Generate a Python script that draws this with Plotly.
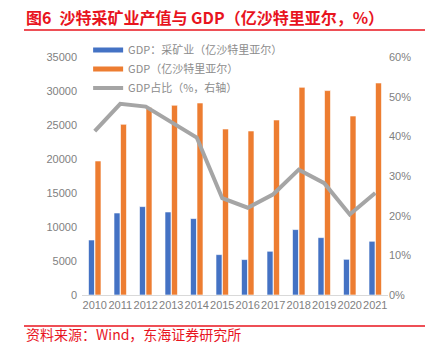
import plotly.graph_objects as go

years = ["2010", "2011", "2012", "2013", "2014", "2015", "2016", "2017", "2018", "2019", "2020", "2021"]
mining_gdp = [8090, 12060, 13000, 12210, 11240, 5940, 5210, 6430, 9620, 8440, 5250, 7900]
total_gdp = [19710, 25100, 27560, 27900, 28240, 24410, 24120, 25740, 30540, 30060, 26320, 31180]
share_pct = [41.3, 48.2, 47.5, 43.7, 39.7, 24.4, 22.0, 25.4, 31.6, 28.2, 20.3, 25.7]

names = ["GDP：采矿业（亿沙特里亚尔）", "GDP（亿沙特里亚尔）", "GDP占比（%，右轴）"]
colors = ["#4472C4", "#ED7D31", "#A5A5A5"]
font_fam = "Noto Sans CJK SC, Roboto, sans-serif"
tick_font = "Liberation Sans, Arial, sans-serif"
tick_col = "#7F7F7F"
red = "#E8141E"

fig = go.Figure()
fig.add_trace(go.Bar(x=years, y=mining_gdp, marker=dict(color=colors[0], line=dict(color="white", width=0.6)),
                     showlegend=False, name=names[0]))
fig.add_trace(go.Bar(x=years, y=total_gdp, marker=dict(color=colors[1], line=dict(color="white", width=0.6)),
                     showlegend=False, name=names[1]))
fig.add_trace(go.Scatter(x=years, y=share_pct, mode="lines", yaxis="y2",
                         line=dict(color=colors[2], width=4), showlegend=False, name=names[2]))
# legend entries (line-style samples)
for i in range(3):
    fig.add_trace(go.Scatter(x=[None], y=[None], mode="lines", name=names[i],
                             line=dict(color=colors[i], width=5 if i < 2 else 4),
                             yaxis="y2" if i == 2 else "y"))

fig.update_layout(
    width=438, height=351,
    margin=dict(l=82, r=50, t=57, b=56),
    paper_bgcolor="white", plot_bgcolor="white",
    font=dict(family=font_fam, size=11, color=tick_col),
    barmode="group", bargap=0.49, bargroupgap=0.08,
    showlegend=True,
    legend=dict(x=0.02, y=1.09, xanchor="left", yanchor="top", bgcolor="rgba(0,0,0,0)",
                font=dict(size=11, color="#8C8C8C"), itemwidth=30, tracegroupgap=0,
                traceorder="normal"),
    xaxis=dict(showgrid=False, showline=True, linecolor="#D9D9D9", linewidth=1, ticks="",
               tickangle=0, tickfont=dict(size=11, color=tick_col, family=tick_font)),
    yaxis=dict(range=[0, 35000], dtick=5000, tickformat="d", showgrid=False, zeroline=False,
               showline=False, ticks="", tickfont=dict(size=11, color=tick_col, family=tick_font),
               ticklabelstandoff=4),
    yaxis2=dict(range=[0, 60], dtick=10, overlaying="y", side="right", showgrid=False,
                zeroline=False, ticksuffix="%", tickfont=dict(size=11, color=tick_col, family=tick_font)),
)

fig.add_annotation(text="<b>图6\u2002沙特采矿业产值与 GDP（亿沙特里亚尔，%）</b>", xref="paper", yref="paper",
                   x=-0.1895, y=(295 - 17) / 238, xanchor="left", yanchor="middle", showarrow=False,
                   font=dict(size=16, color=red, family=font_fam))
fig.add_annotation(text="资料来源：Wind，东海证券研究所", xref="paper", yref="paper",
                   x=-0.1895, y=(295 - 334) / 238, xanchor="left", yanchor="middle", showarrow=False,
                   font=dict(size=14, color=red, family=font_fam))
fig.add_shape(type="line", xref="paper", yref="paper", x0=-0.1895, x1=1.1209,
              y0=(295 - 30) / 238, y1=(295 - 30) / 238, line=dict(color=red, width=1.5))
fig.add_shape(type="line", xref="paper", yref="paper", x0=-0.1895, x1=1.1209,
              y0=(295 - 326) / 238, y1=(295 - 326) / 238, line=dict(color=red, width=1.5))

fig.write_html("out.html")
